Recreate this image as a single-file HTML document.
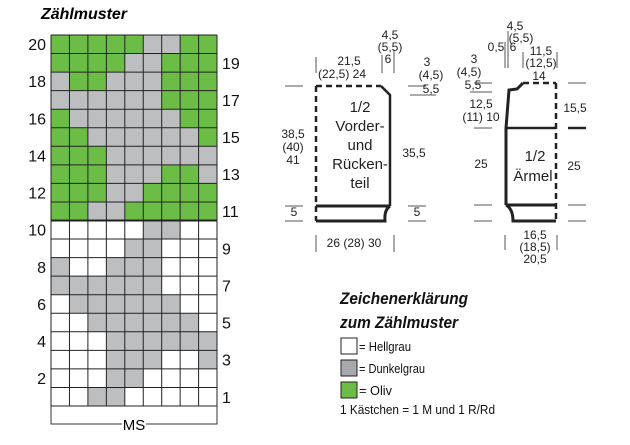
<!DOCTYPE html>
<html><head><meta charset="utf-8"><style>
html,body{margin:0;padding:0;background:#fff;}
svg{display:block;font-family:"Liberation Sans",sans-serif;}
</style></head><body>
<svg width="630" height="445" viewBox="0 0 630 445" xmlns="http://www.w3.org/2000/svg" xmlns:xlink="http://www.w3.org/1999/xlink">
<text x="41" y="19" font-size="16" font-weight="bold" font-style="italic" textLength="86" lengthAdjust="spacingAndGlyphs">Zählmuster</text>

<rect x="51" y="35" width="166" height="185.5" fill="#6cbd45"/>
<rect x="51" y="220.5" width="166" height="185.5" fill="#ffffff"/>
<g id="pat" fill="#bdbec0">
<rect x="143.25" y="35" width="36.9" height="18.55"/>
<rect x="124.8" y="53.55" width="36.9" height="18.55"/>
<rect x="51" y="72.1" width="18.45" height="18.55"/>
<rect x="106.35" y="72.1" width="55.35" height="18.55"/>
<rect x="51" y="90.65" width="110.7" height="18.55"/>
<rect x="69.45" y="109.2" width="110.7" height="18.55"/>
<rect x="87.9" y="127.75" width="110.7" height="18.55"/>
<rect x="106.35" y="146.3" width="110.7" height="18.55"/>
<rect x="106.35" y="164.85" width="55.35" height="18.55"/>
<rect x="198.6" y="164.85" width="18.45" height="18.55"/>
<rect x="106.35" y="183.4" width="36.9" height="18.55"/>
<rect x="87.9" y="201.95" width="36.9" height="18.55"/>
</g>
<use xlink:href="#pat" href="#pat" y="185.5"/>
<g stroke="#222" stroke-width="1">
<line x1="51" y1="35" x2="51" y2="406"/><line x1="69.45" y1="35" x2="69.45" y2="406"/><line x1="87.9" y1="35" x2="87.9" y2="406"/><line x1="106.35" y1="35" x2="106.35" y2="406"/><line x1="124.8" y1="35" x2="124.8" y2="406"/><line x1="143.25" y1="35" x2="143.25" y2="406"/><line x1="161.7" y1="35" x2="161.7" y2="406"/><line x1="180.15" y1="35" x2="180.15" y2="406"/><line x1="198.6" y1="35" x2="198.6" y2="406"/><line x1="217" y1="35" x2="217" y2="406"/>
<line x1="51" y1="35" x2="217" y2="35"/><line x1="51" y1="53.55" x2="217" y2="53.55"/><line x1="51" y1="72.1" x2="217" y2="72.1"/><line x1="51" y1="90.65" x2="217" y2="90.65"/><line x1="51" y1="109.2" x2="217" y2="109.2"/><line x1="51" y1="127.75" x2="217" y2="127.75"/><line x1="51" y1="146.3" x2="217" y2="146.3"/><line x1="51" y1="164.85" x2="217" y2="164.85"/><line x1="51" y1="183.4" x2="217" y2="183.4"/><line x1="51" y1="201.95" x2="217" y2="201.95"/>
<line x1="51" y1="220.5" x2="217" y2="220.5" stroke-width="2"/>
<line x1="51" y1="239.05" x2="217" y2="239.05"/><line x1="51" y1="257.6" x2="217" y2="257.6"/><line x1="51" y1="276.15" x2="217" y2="276.15"/><line x1="51" y1="294.7" x2="217" y2="294.7"/><line x1="51" y1="313.25" x2="217" y2="313.25"/><line x1="51" y1="331.8" x2="217" y2="331.8"/><line x1="51" y1="350.35" x2="217" y2="350.35"/><line x1="51" y1="368.9" x2="217" y2="368.9"/><line x1="51" y1="387.45" x2="217" y2="387.45"/><line x1="51" y1="406" x2="217" y2="406"/>
</g>
<g font-size="16" text-anchor="end" fill="#111">
<text x="46" y="50">20</text><text x="46" y="87">18</text><text x="46" y="124.5">16</text><text x="46" y="161.5">14</text><text x="46" y="198.5">12</text><text x="46" y="235.5">10</text><text x="46" y="273">8</text><text x="46" y="310">6</text><text x="46" y="347">4</text><text x="46" y="384">2</text>
</g>
<g font-size="16" fill="#111">
<text x="222" y="69">19</text><text x="222" y="106">17</text><text x="222" y="143">15</text><text x="222" y="180">13</text><text x="222" y="217">11</text><text x="222" y="254.5">9</text><text x="222" y="291.5">7</text><text x="222" y="328.5">5</text><text x="222" y="365.5">3</text><text x="222" y="403">1</text>
</g>
<g stroke="#333" stroke-width="1" fill="none">
<polyline points="51,406 51,424 122,424"/><polyline points="146,424 217,424 217,406"/>
</g>
<text x="134" y="430" font-size="15" text-anchor="middle">MS</text>

<!-- front piece -->
<g stroke="#222" fill="none">
<polyline points="316,86 381,86" stroke-width="2.5" stroke-dasharray="6,4"/>
<polyline points="316,86 316,221" stroke-width="2.5" stroke-dasharray="6,4"/>
<polyline points="381,86 390,95 390,206" stroke-width="2.5"/>
<line x1="316" y1="206" x2="390" y2="206" stroke-width="3"/>
<path d="M390,206 Q384,210 385,221 L316,221" stroke-width="3"/>
<g stroke="#555" stroke-width="1">
<line x1="285" y1="86" x2="303" y2="86"/><line x1="285" y1="206" x2="303" y2="206"/><line x1="285" y1="221" x2="303" y2="221"/>
<line x1="408" y1="86" x2="426" y2="86"/><line x1="410" y1="95" x2="436" y2="95"/><line x1="408" y1="206" x2="426" y2="206"/><line x1="408" y1="221" x2="426" y2="221"/>
<line x1="316" y1="57" x2="316" y2="73"/><line x1="382" y1="55" x2="382" y2="73"/><line x1="394" y1="50" x2="394" y2="73"/>
<line x1="316" y1="235" x2="316" y2="252"/><line x1="394" y1="235" x2="394" y2="252"/>
</g></g>
<g font-size="15" text-anchor="middle" fill="#222">
<text x="360" y="112">1/2</text><text x="360" y="131">Vorder-</text><text x="360" y="150">und</text><text x="360" y="169">Rücken-</text><text x="360" y="188">teil</text>
</g>
<g font-size="12" text-anchor="middle" fill="#222">
<text x="293" y="138">38,5</text><text x="293" y="151">(40)</text><text x="293" y="164">41</text>
<text x="414" y="157">35,5</text>
<text x="349" y="65">21,5</text><text x="342" y="78">(22,5) 24</text>
<text x="390" y="39">4,5</text><text x="390" y="51">(5,5)</text><text x="388" y="63">6</text>
<text x="427" y="66">3</text><text x="431" y="79">(4,5)</text><text x="431" y="93">5,5</text>
<text x="294" y="216">5</text><text x="417" y="216">5</text>
<text x="354" y="247">26 (28) 30</text>
</g>

<!-- sleeve -->
<g stroke="#222" fill="none">
<polyline points="523,83 556,83" stroke-width="2.5" stroke-dasharray="6,4"/>
<line x1="556" y1="83" x2="556" y2="221" stroke-width="2.5" stroke-dasharray="6,4"/>
<polyline points="523,83 517,89 509,90 506,128 506,205" stroke-width="3"/>
<line x1="506" y1="128" x2="556" y2="128" stroke-width="2.5"/>
<line x1="506" y1="205" x2="556" y2="205" stroke-width="3"/>
<path d="M506,205 Q513,209 513,221 L556,221" stroke-width="3"/>
<g stroke="#555" stroke-width="1">
<line x1="474" y1="83" x2="492" y2="83"/><line x1="470" y1="92" x2="492" y2="92"/><line x1="474" y1="128" x2="492" y2="128"/><line x1="474" y1="205" x2="492" y2="205"/><line x1="474" y1="221" x2="492" y2="221"/>
<line x1="568" y1="83" x2="586" y2="83"/><line x1="568" y1="128" x2="586" y2="128" stroke-width="2.5" stroke="#222"/><line x1="568" y1="205" x2="586" y2="205"/><line x1="568" y1="221" x2="586" y2="221"/>
<line x1="505" y1="42" x2="505" y2="68"/><line x1="508" y1="31" x2="508" y2="68"/><line x1="523" y1="52" x2="523" y2="68"/><line x1="557" y1="52" x2="557" y2="68"/>
<line x1="505" y1="235" x2="505" y2="250"/><line x1="557" y1="235" x2="557" y2="250"/>
</g></g>
<g font-size="15" text-anchor="middle" fill="#222">
<text x="535" y="161">1/2</text><text x="533" y="181">Ärmel</text>
</g>
<g font-size="12" text-anchor="middle" fill="#222">
<text x="481" y="168">25</text><text x="574" y="170">25</text><text x="575" y="112">15,5</text>
<text x="481" y="108">12,5</text><text x="481" y="121">(11) 10</text>
<text x="474" y="63">3</text><text x="469" y="76">(4,5)</text><text x="473" y="89">5,5</text>
<text x="515" y="30">4,5</text><text x="521" y="42">(5,5)</text><text x="496" y="51">0,5</text><text x="513" y="51">6</text>
<text x="541" y="55">11,5</text><text x="541" y="67">(12,5)</text><text x="539" y="80">14</text>
<text x="535" y="239">16,5</text><text x="535" y="251">(18,5)</text><text x="535" y="263">20,5</text>
</g>

<!-- legend -->
<g fill="#111">
<text x="340" y="304" font-size="17" font-weight="bold" font-style="italic" textLength="128" lengthAdjust="spacingAndGlyphs">Zeichenerklärung</text>
<text x="340" y="328" font-size="17" font-weight="bold" font-style="italic" textLength="118" lengthAdjust="spacingAndGlyphs">zum Zählmuster</text>
<rect x="341" y="338" width="16" height="16" fill="#fff" stroke="#222"/>
<rect x="341" y="360" width="16" height="16" fill="#a7a9ac" stroke="#222"/>
<rect x="341" y="382" width="16" height="16" fill="#6cbd45" stroke="#222"/>
<text x="359" y="351" font-size="13" textLength="52" lengthAdjust="spacingAndGlyphs">= Hellgrau</text>
<text x="359" y="373" font-size="13" textLength="66" lengthAdjust="spacingAndGlyphs">= Dunkelgrau</text>
<text x="359" y="395" font-size="13" textLength="33" lengthAdjust="spacingAndGlyphs">= Oliv</text>
<text x="340" y="414" font-size="13" textLength="155" lengthAdjust="spacingAndGlyphs">1 Kästchen = 1 M und 1 R/Rd</text>
</g>
</svg>
</body></html>
